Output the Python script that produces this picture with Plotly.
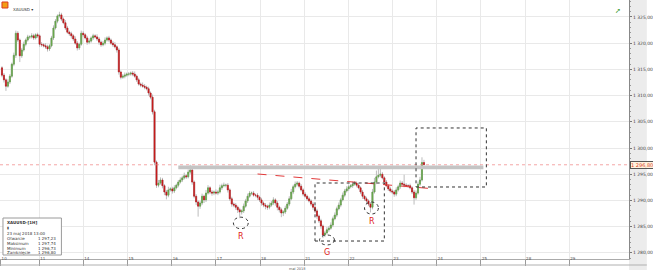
import plotly.graph_objects as go

# ---------------- data (hourly XAUUSD candles) ----------------
first_open = 1315.3
closes = [
    1313.9, 1313.0, 1311.8, 1312.6, 1313.7, 1316.0, 1317.7, 1321.9, 1320.6, 1317.6,
    1318.7, 1319.8, 1320.6, 1321.2, 1321.2, 1321.4, 1321.0, 1321.6, 1321.4, 1319.8,
    1319.7, 1319.5, 1319.3, 1318.9, 1319.5, 1321.0, 1322.9, 1324.2, 1325.2, 1325.4,
    1324.6, 1323.9, 1322.9, 1322.1, 1321.8, 1321.4, 1320.8, 1320.0, 1319.1, 1319.8,
    1321.9, 1321.6, 1321.0, 1320.2, 1320.4, 1321.0, 1321.4, 1321.2, 1320.8, 1320.2,
    1319.7, 1320.0, 1320.6, 1321.0, 1320.6, 1320.0, 1319.7, 1319.3, 1318.7, 1314.5,
    1313.5, 1313.7, 1313.9, 1314.1, 1314.1, 1314.3, 1314.1, 1313.7, 1313.0, 1312.2,
    1312.0, 1311.8, 1311.6, 1311.3, 1310.5, 1309.7, 1306.9, 1297.3, 1292.9, 1293.3,
    1293.9, 1292.8, 1291.6, 1291.0, 1292.0, 1292.2, 1291.8, 1292.4, 1292.9, 1293.5,
    1293.9, 1294.3, 1294.7, 1294.5, 1295.4, 1295.8, 1293.5, 1290.8, 1289.7, 1288.9,
    1289.5, 1290.8, 1290.1, 1291.4, 1292.4, 1291.6, 1291.4, 1291.6, 1291.4, 1291.6,
    1292.4, 1292.8, 1292.9, 1292.9, 1292.0, 1290.3, 1289.3, 1289.1, 1288.7, 1288.2,
    1287.8, 1288.0, 1288.9, 1289.9, 1290.8, 1291.4, 1291.4, 1291.0, 1291.0, 1290.6,
    1290.1, 1289.5, 1289.1, 1288.9, 1288.7, 1289.1, 1289.5, 1290.1, 1289.5, 1288.7,
    1288.2, 1287.6, 1287.8, 1288.5, 1289.3, 1290.3, 1291.6, 1292.6, 1293.1, 1293.3,
    1292.7, 1292.0, 1291.2, 1290.8, 1290.3, 1289.9, 1289.3, 1288.7, 1288.0, 1287.0,
    1286.1, 1285.1, 1283.4, 1283.8, 1284.4, 1284.7, 1285.3, 1286.5, 1287.2, 1288.4,
    1289.1, 1290.1, 1291.0, 1291.8, 1292.2, 1292.6, 1292.8, 1293.1, 1293.3, 1292.9,
    1292.4, 1291.6, 1290.8, 1290.3, 1289.9, 1289.3, 1288.7, 1291.6, 1293.5, 1294.5,
    1294.8, 1295.0, 1294.3, 1293.5, 1292.8, 1292.2, 1291.8, 1291.6, 1291.2, 1292.0,
    1292.6, 1293.3, 1293.1, 1292.9, 1292.8, 1292.8, 1292.4, 1291.6, 1290.5, 1291.4,
    1293.1, 1293.9, 1297.23, 1296.80,
]
upper_wick = [
    0.3, 0.4, 0.3, 0.5, 0.4, 0.3, 0.5, 0.5, 0.4, 0.3, 0.4, 0.5, 0.3, 0.4, 0.3, 0.5, 0.4, 0.3, 0.4, 0.3,
    0.4, 0.3, 0.5, 0.4, 0.3, 0.4, 0.5, 0.4, 0.3, 0.6, 0.4, 0.3, 0.5, 0.4, 0.3, 0.4, 0.3, 0.5, 0.4, 0.3,
    0.5, 0.4, 0.3, 0.4, 0.5, 0.3, 0.4, 0.3, 0.5, 0.4, 0.3, 0.4, 0.5, 0.3, 0.4, 0.3, 0.4, 0.5, 0.3, 0.4,
    0.3, 0.4, 0.5, 0.3, 0.4, 0.3, 0.4, 0.5, 0.3, 0.4, 0.3, 0.5, 0.4, 0.3, 0.4, 0.3, 0.5, 0.4, 0.3, 0.6,
    0.5, 0.4, 0.3, 0.4, 0.6, 0.3, 0.4, 0.5, 0.3, 0.4, 0.5, 0.4, 0.6, 0.3, 0.5, 1.0, 0.4, 0.3, 0.4, 0.3,
    0.4, 0.5, 0.3, 0.6, 0.5, 0.3, 0.4, 0.3, 0.5, 0.4, 0.6, 0.4, 0.5, 0.3, 0.4, 0.3, 0.4, 0.3, 0.4, 0.3,
    0.4, 0.3, 0.5, 0.4, 0.5, 0.4, 0.3, 0.4, 0.3, 0.4, 0.3, 0.4, 0.3, 0.4, 0.3, 0.5, 0.4, 0.5, 0.3, 0.4,
    0.3, 0.4, 0.3, 0.5, 0.4, 0.5, 0.6, 0.4, 0.5, 0.4, 0.3, 0.4, 0.3, 0.4, 0.3, 0.4, 0.3, 0.4, 0.3, 0.4,
    0.3, 0.4, 0.3, 0.4, 0.5, 0.4, 0.5, 0.4, 0.5, 0.4, 0.5, 0.4, 0.5, 0.4, 0.5, 0.4, 0.3, 0.5, 0.4, 0.3,
    0.4, 0.3, 0.4, 0.3, 0.4, 0.3, 0.4, 0.6, 0.8, 1.2, 1.2, 1.0, 0.4, 0.3, 0.4, 0.3, 0.4, 0.3, 0.4, 0.5,
    0.4, 0.5, 0.4, 1.8, 0.4, 0.3, 0.4, 0.3, 0.4, 0.5, 0.5, 0.6, 1.0, 0.51,
]
lower_wick = [
    0.4, 0.5, 0.9, 0.3, 0.4, 0.3, 0.4, 0.5, 0.4, 1.2, 0.4, 0.3, 0.4, 0.3, 0.4, 0.3, 0.4, 0.3, 0.4, 0.5,
    0.4, 0.3, 0.4, 0.5, 0.4, 0.3, 0.4, 0.3, 0.4, 0.3, 0.4, 0.3, 0.4, 0.3, 0.4, 0.5, 0.4, 0.3, 0.5, 0.4,
    0.3, 0.4, 0.3, 0.5, 0.4, 0.3, 0.4, 0.3, 0.4, 0.5, 0.4, 0.3, 0.4, 0.3, 0.4, 0.3, 0.4, 0.3, 0.5, 0.5,
    0.4, 0.3, 0.4, 0.3, 0.4, 0.3, 0.4, 0.3, 0.4, 0.3, 0.4, 0.3, 0.4, 0.3, 0.5, 0.4, 0.5, 0.6, 0.5, 0.4,
    0.3, 0.5, 0.6, 0.8, 0.4, 0.3, 0.5, 0.4, 0.3, 0.4, 0.3, 0.4, 0.3, 0.4, 0.3, 0.4, 0.5, 0.4, 0.6, 2.0,
    0.5, 0.4, 0.6, 0.4, 0.3, 0.4, 0.5, 0.4, 0.3, 0.4, 0.3, 0.4, 0.3, 0.4, 0.5, 0.4, 0.5, 0.4, 0.5, 0.6,
    1.2, 0.5, 0.4, 0.3, 0.4, 0.3, 0.4, 0.3, 0.4, 0.5, 0.4, 0.5, 0.4, 0.6, 0.5, 0.4, 0.3, 0.4, 0.5, 0.6,
    0.5, 0.8, 0.6, 0.4, 0.3, 0.4, 0.3, 0.4, 0.3, 0.4, 0.4, 0.3, 0.4, 0.3, 0.4, 0.3, 0.4, 0.5, 0.4, 0.5,
    0.4, 0.5, 0.6, 0.4, 0.3, 0.4, 0.3, 0.4, 0.3, 0.4, 0.3, 0.4, 0.3, 0.4, 0.3, 0.4, 0.3, 0.4, 0.3, 0.4,
    0.3, 0.4, 0.5, 0.4, 0.5, 0.4, 1.0, 0.4, 0.3, 0.4, 0.3, 0.4, 0.3, 0.4, 0.3, 0.4, 0.3, 0.4, 0.5, 0.4,
    0.3, 0.4, 0.3, 0.4, 0.3, 0.4, 0.3, 0.4, 1.3, 0.4, 0.3, 0.4, 0.3, 0.07,
]
day_labels = ["10", "11", "14", "15", "16", "17", "18", "21", "22", "23", "24", "25", "28", "29"]
last_price = 1296.80
info_lines = ["XAUUSD-[1H]", "23 maj 2018 13:00", "Otwarcie", "Maksimum", "Minimum", "Zamknięcie"]
info_values = ["", "", "1 297,23", "1 297,74", "1 296,73", "1 296,80"]

# ---------------- derived ----------------
opens = [first_open] + closes[:-1]
idx = list(range(len(closes)))
highs = [max(o, c) + u for o, c, u in zip(opens, closes, upper_wick)]
lows = [min(o, c) - l for o, c, l in zip(opens, closes, lower_wick)]
body_top = [max(o, c) for o, c in zip(opens, closes)]
body_bot = [min(o, c) for o, c in zip(opens, closes)]

CPD = 22.3          # candles per trading day on this axis
DAY0 = -3.55
tickvals = [max(DAY0 + CPD * k, -0.7) for k in range(len(day_labels))]

fig = go.Figure()
# grey shadow / wicks (full OHLC range)
fig.add_trace(go.Candlestick(
    x=idx, open=opens, high=highs, low=lows, close=closes,
    increasing=dict(line=dict(color="#bcbcbc", width=1), fillcolor="#bcbcbc"),
    decreasing=dict(line=dict(color="#bcbcbc", width=1), fillcolor="#bcbcbc"),
    whiskerwidth=0, showlegend=False, hoverinfo="skip",
))
# coloured bodies (open/close only)
fig.add_trace(go.Candlestick(
    x=idx, open=opens, high=body_top, low=body_bot, close=closes,
    increasing=dict(line=dict(color="#5e9e44", width=0.6), fillcolor="#72b152"),
    decreasing=dict(line=dict(color="#b8141a", width=0.6), fillcolor="#d2231f"),
    whiskerwidth=0, showlegend=False, hoverinfo="skip",
))

shapes = []
# right axis panel
shapes.append(dict(type="rect", xref="paper", yref="paper", x0=1, x1=1 + 18 / 635, y0=-0.05, y1=1,
                   fillcolor="#ececec", line=dict(width=0), layer="below"))
# bottom strip line
shapes.append(dict(type="line", xref="paper", yref="paper", x0=0, x1=1 + 18 / 635, y0=-6 / 259, y1=-6 / 259,
                   line=dict(color="#b0b0b0", width=1)))
# current price line
shapes.append(dict(type="line", xref="paper", yref="y", x0=0, x1=1, y0=last_price, y1=last_price,
                   line=dict(color="rgba(240,130,130,0.7)", width=1, dash="dot")))
# grey resistance band
shapes.append(dict(type="rect", x0=89, x1=243, y0=1295.95, y1=1296.65,
                   fillcolor="#c4c4c4", line=dict(width=0)))
# red dashed trendline
shapes.append(dict(type="line", x0=129, x1=219, y0=1295.04, y1=1292.18,
                   line=dict(color="#e23a3a", width=1, dash="dash")))
# dashed boxes
shapes.append(dict(type="rect", x0=158, x1=193, y0=1282.25, y1=1293.32,
                   line=dict(color="#333", width=1, dash="dot")))
shapes.append(dict(type="rect", x0=209, x1=244.5, y0=1292.56, y1=1303.82,
                   line=dict(color="#333", width=1, dash="dot")))
# ellipses
shapes.append(dict(type="circle", x0=116.8, x1=124.3, y0=1284.6, y1=1286.8,
                   line=dict(color="#333", width=1, dash="dot")))
shapes.append(dict(type="circle", x0=160.3, x1=167.8, y0=1281.5, y1=1283.4,
                   line=dict(color="#333", width=1, dash="dot")))
shapes.append(dict(type="circle", x0=183.0, x1=190.0, y0=1287.4, y1=1289.7,
                   line=dict(color="#333", width=1, dash="dot")))
# info box
shapes.append(dict(type="rect", xref="paper", yref="paper", x0=3 / 635, x1=62 / 635,
                   y0=1 - 255 / 259, y1=1 - 218 / 259, fillcolor="white",
                   line=dict(color="#9a9a9a", width=1)))
# logo
shapes.append(dict(type="rect", xref="paper", yref="paper", x0=2 / 635, x1=8 / 635,
                   y0=1 - 8 / 259, y1=1 - 2 / 259, fillcolor="#f39c12", line=dict(color="#d9381e", width=1)))

ann = []
ann.append(dict(text="R", x=120.5, y=1283.2, showarrow=False, font=dict(color="#e02020", size=8, family="DejaVu Sans")))
ann.append(dict(text="G", x=164, y=1280.0, showarrow=False, font=dict(color="#e02020", size=8, family="DejaVu Sans")))
ann.append(dict(text="R", x=187, y=1285.9, showarrow=False, font=dict(color="#e02020", size=8, family="DejaVu Sans")))
ann.append(dict(text="1 296,80", xref="paper", x=1.001, xanchor="left", y=last_price, showarrow=False,
                font=dict(color="#d9452b", size=5, family="DejaVu Sans"), bgcolor="#fff3df",
                bordercolor="#555", borderwidth=1, borderpad=0))
ann.append(dict(text="XAUUSD ▾", xref="paper", yref="paper", x=11 / 635, y=1 - 5 / 259, xanchor="left",
                showarrow=False, font=dict(size=4, color="#333", family="DejaVu Sans")))
ann.append(dict(text="maj 2018", xref="paper", yref="paper", x=300 / 635, y=1 - 268.5 / 259, xanchor="center",
                yanchor="middle", showarrow=False, font=dict(size=3.5, color="#555", family="DejaVu Sans")))
ann.append(dict(text="➚", xref="paper", yref="paper", x=629 / 635, y=1 - 5 / 259, showarrow=False,
                font=dict(size=7, color="#3c9a2c")))
line_y = [223, 233, 238, 243, 248, 252.5]
for t, v, yy in zip(info_lines, info_values, line_y):
    bold = t.startswith("XAUUSD")
    ann.append(dict(text=("<b>%s</b>" % t) if bold else t, xref="paper", yref="paper", x=5 / 635,
                    y=1 - yy / 259, xanchor="left", yanchor="middle",
                    showarrow=False, font=dict(size=4, color="#333", family="DejaVu Sans")))
    if v:
        ann.append(dict(text=v, xref="paper", yref="paper", x=59 / 635, y=1 - yy / 259, xanchor="right",
                        yanchor="middle", showarrow=False,
                        font=dict(size=4, color="#333", family="DejaVu Sans")))
ann.append(dict(text="▮", xref="paper", yref="paper", x=5 / 635, y=1 - 228 / 259, xanchor="left",
                yanchor="middle", showarrow=False, font=dict(size=3.5, color="#444")))

fig.update_layout(
    width=653, height=270, margin=dict(l=0, r=18, t=0, b=11),
    paper_bgcolor="white", plot_bgcolor="white", separators=", ",
    boxgap=0.25, showlegend=False,
    shapes=shapes, annotations=ann,
    font=dict(family="DejaVu Sans", size=4, color="#444"),
    xaxis=dict(range=[-1, 316.5], tickvals=tickvals, ticktext=day_labels,
               ticklabelposition="outside right", ticks="outside", ticklen=6, tickcolor="#999",
               ticklabelstandoff=-5,
               tickfont=dict(size=4, color="#555"), showgrid=True, gridcolor="#e9e9e9",
               showline=True, linecolor="#aaa", zeroline=False, rangeslider=dict(visible=False),
               fixedrange=True),
    yaxis=dict(side="right", range=[1278.82, 1328.24], dtick=5, tick0=1280, tickformat=",.2f",
               ticks="outside", ticklen=2, tickcolor="#777", tickfont=dict(size=4.5, color="#444"),
               showgrid=True, gridcolor="#e9e9e9", showline=True, linecolor="#888", zeroline=False,
               minor=dict(ticks="outside", ticklen=1, dtick=1, tickcolor="#999", showgrid=False),
               fixedrange=True),
)

fig.write_html("out.html")
